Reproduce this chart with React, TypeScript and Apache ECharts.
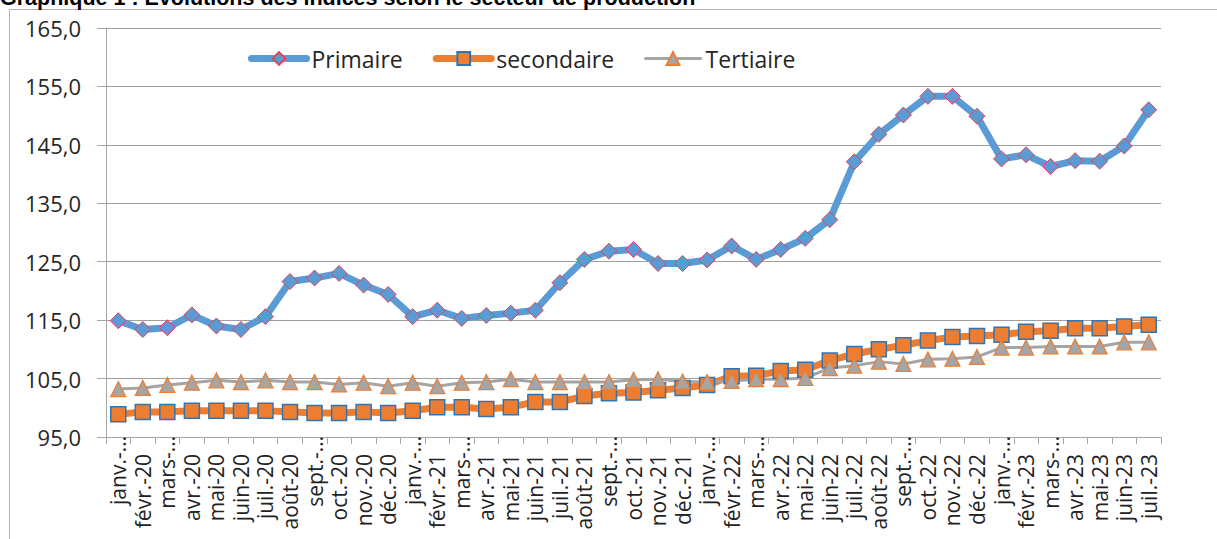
import React, { useEffect, useRef } from "react";
import * as echarts from "echarts";

const months = [
  "janv.-20", "févr.-20", "mars-20", "avr.-20", "mai-20", "juin-20", "juil.-20", "août-20", "sept.-20", "oct.-20", "nov.-20", "déc.-20",
  "janv.-21", "févr.-21", "mars-21", "avr.-21", "mai-21", "juin-21", "juil.-21", "août-21", "sept.-21", "oct.-21", "nov.-21", "déc.-21",
  "janv.-22", "févr.-22", "mars-22", "avr.-22", "mai-22", "juin-22", "juil.-22", "août-22", "sept.-22", "oct.-22", "nov.-22", "déc.-22",
  "janv.-23", "févr.-23", "mars-23", "avr.-23", "mai-23", "juin-23", "juil.-23",
];

const tickLabels = [
  "janv.-…", "févr.-20", "mars-…", "avr.-20", "mai-20", "juin-20", "juil.-20", "août-20", "sept.-…", "oct.-20", "nov.-20", "déc.-20",
  "janv.-…", "févr.-21", "mars-…", "avr.-21", "mai-21", "juin-21", "juil.-21", "août-21", "sept.-…", "oct.-21", "nov.-21", "déc.-21",
  "janv.-…", "févr.-22", "mars-…", "avr.-22", "mai-22", "juin-22", "juil.-22", "août-22", "sept.-…", "oct.-22", "nov.-22", "déc.-22",
  "janv.-…", "févr.-23", "mars-…", "avr.-23", "mai-23", "juin-23", "juil.-23",
];

const primaire = [
  114.9, 113.4, 113.7, 115.9, 114.0, 113.4, 115.6, 121.6, 122.2, 123.0, 121.0, 119.4,
  115.6, 116.7, 115.3, 115.8, 116.2, 116.7, 121.4, 125.4, 126.8, 127.1, 124.7, 124.7,
  125.3, 127.7, 125.4, 127.1, 129.0, 132.2, 142.1, 146.8, 150.1, 153.3, 153.3, 149.9,
  142.6, 143.3, 141.3, 142.3, 142.2, 144.8, 151.0,
];

const secondaire = [
  98.9, 99.3, 99.3, 99.5, 99.5, 99.5, 99.5, 99.3, 99.1, 99.1, 99.3, 99.1,
  99.5, 100.1, 100.1, 99.8, 100.1, 101.0, 101.0, 102.0, 102.5, 102.6, 103.0, 103.4,
  103.9, 105.4, 105.5, 106.3, 106.5, 108.1, 109.2, 110.0, 110.7, 111.5, 112.1, 112.3,
  112.5, 113.0, 113.2, 113.6, 113.6, 113.9, 114.2,
];

const tertiaire = [
  103.2, 103.4, 103.9, 104.3, 104.7, 104.4, 104.7, 104.4, 104.4, 104.0, 104.3, 103.7,
  104.3, 103.7, 104.3, 104.4, 104.9, 104.4, 104.4, 104.4, 104.4, 104.8, 104.9, 104.5,
  104.4, 104.6, 104.9, 104.9, 105.1, 106.8, 107.2, 107.9, 107.5, 108.3, 108.4, 108.7,
  110.3, 110.3, 110.5, 110.5, 110.5, 111.2, 111.2,
];

const seriesNames = ["Primaire", "secondaire", "Tertiaire"];
const titleText = "Graphique 1 : Evolutions des indices selon le secteur de production";

export default function App() {
  const ref = useRef<HTMLDivElement>(null);
  useEffect(() => {
    const chart = echarts.init(ref.current!, null, { renderer: "svg" });
    const font = "'Open Sans', sans-serif";
    const lineWidths = [7, 7, 3];
    chart.setOption({
      animation: false,
      backgroundColor: "#ffffff",
      graphic: [
        {
          type: "rect",
          silent: true,
          shape: { x: 9.5, y: 9.5, width: 1300, height: 600 },
          style: { fill: "none", stroke: "#b4b4b4", lineWidth: 1 },
        },
        {
          type: "text",
          x: 0,
          y: -2,
          style: {
            text: titleText,
            fontFamily: "'Liberation Sans', Arial, sans-serif",
            fontWeight: "bold",
            fontSize: 21.5,
            fill: "#000",
            verticalAlign: "middle",
          },
        },
      ],
      legend: {
        data: seriesNames.map((name, i) => ({
          name,
          lineStyle: { width: lineWidths[i], cap: "round" },
        })),
        left: 248,
        top: 47,
        padding: 0,
        itemGap: 30,
        itemWidth: 55,
        itemHeight: 16,
        textStyle: { fontFamily: font, fontSize: 23, color: "#262626" },
      },
      grid: { left: 106, right: 56, top: 28, bottom: 102, containLabel: false },
      xAxis: {
        type: "category",
        data: months,
        boundaryGap: true,
        axisLine: { lineStyle: { color: "#a6a6a6", width: 1 } },
        axisTick: { show: true, length: 7, lineStyle: { color: "#a6a6a6" } },
        axisLabel: {
          interval: 0,
          rotate: 90,
          margin: -1,
          fontFamily: font,
          fontSize: 21,
          color: "#222",
          formatter: (_v: string, idx: number) => {
            const t = tickLabels[idx];
            return t.endsWith("…") ? `{t|${t}}` : `{n|${t}}`;
          },
          rich: {
            n: { fontFamily: font, fontSize: 21, color: "#222", padding: [0, 18, 0, 0] },
            t: { fontFamily: font, fontSize: 21, color: "#222" },
          },
        },
      },
      yAxis: {
        type: "value",
        min: 95,
        max: 165,
        interval: 10,
        axisLine: { show: true, lineStyle: { color: "#a6a6a6", width: 1 } },
        axisTick: { show: true, length: 9, lineStyle: { color: "#a6a6a6" } },
        splitLine: { show: true, lineStyle: { color: "#a0a0a0", width: 1 } },
        axisLabel: {
          margin: 25,
          fontFamily: font,
          fontSize: 22,
          color: "#262626",
          formatter: (v: number) => v.toFixed(1).replace(".", ","),
        },
      },
      series: [
        {
          name: seriesNames[0],
          type: "line",
          data: primaire,
          symbol: "diamond",
          symbolSize: 16,
          lineStyle: { color: "#5b9bd5", width: lineWidths[0], cap: "round", join: "round" },
          itemStyle: { color: "#5b9bd5", borderColor: "#e8424e", borderWidth: 1 },
        },
        {
          name: seriesNames[1],
          type: "line",
          data: secondaire,
          symbol: "rect",
          symbolSize: 15,
          lineStyle: { color: "#ed7d31", width: lineWidths[1], cap: "round", join: "round" },
          itemStyle: { color: "#ed7d31", borderColor: "#2e75b6", borderWidth: 1.5 },
        },
        {
          name: seriesNames[2],
          type: "line",
          data: tertiaire,
          symbol: "triangle",
          symbolSize: 15,
          lineStyle: { color: "#a5a5a5", width: lineWidths[2], cap: "round", join: "round" },
          itemStyle: { color: "#a5a5a5", borderColor: "#ed7d31", borderWidth: 1.2 },
        },
      ],
    });
    return () => chart.dispose();
  }, []);
  return (
    <div
      ref={ref}
      style={{ position: "absolute", left: 0, top: 0, width: 1217, height: 539 }}
    />
  );
}
